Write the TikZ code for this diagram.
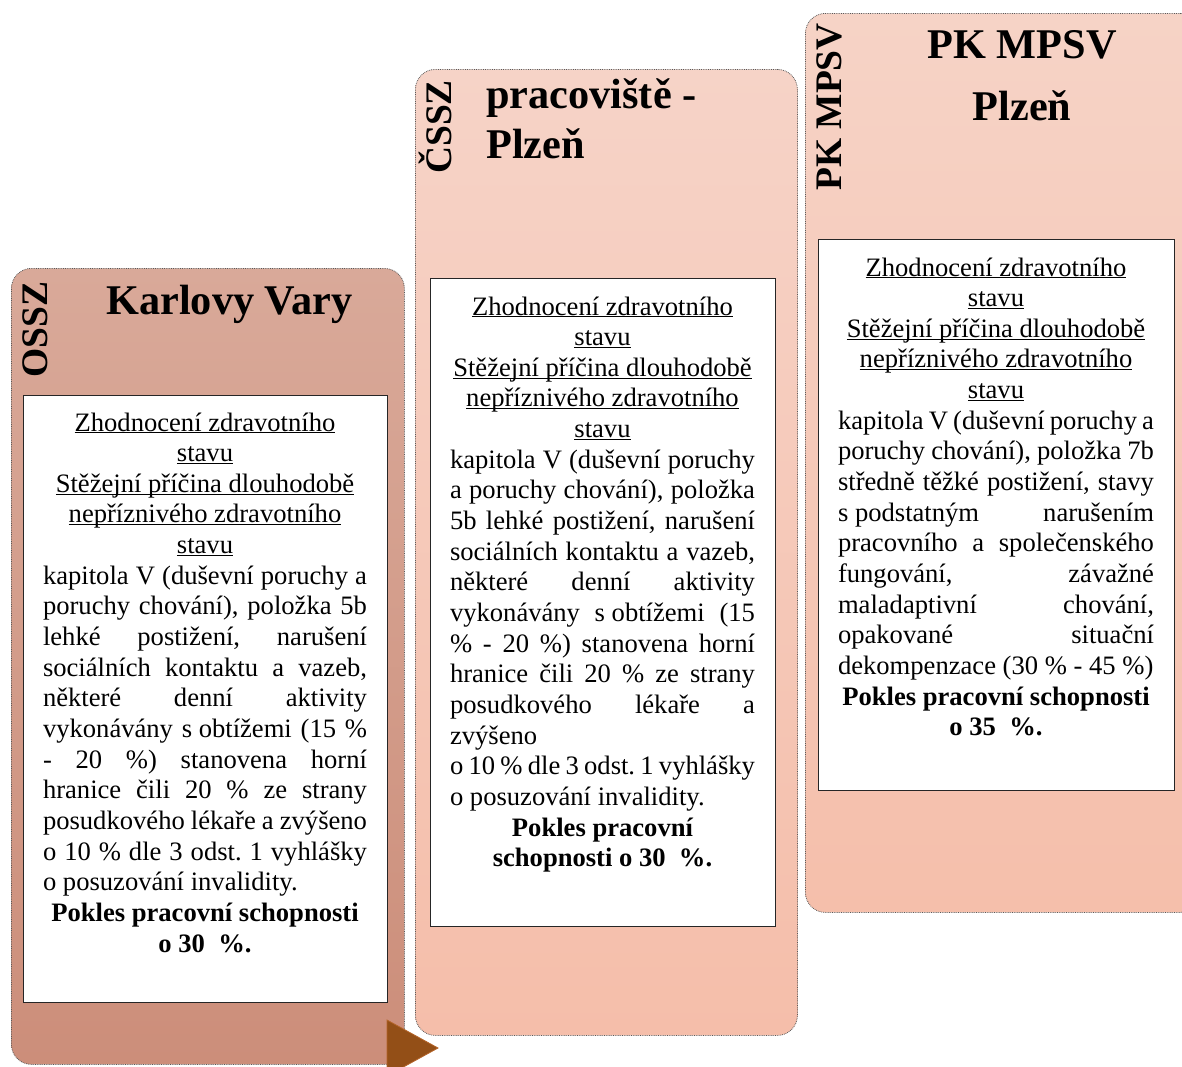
\documentclass[tikz,border=0pt]{standalone}
\usepackage{fontspec}
\setmainfont{Liberation Serif}
\frenchspacing
\newcommand\ulx[1]{\underline{\smash{#1}}}
\newcommand\fsp{\hskip0.25em\relax}
\definecolor{pAtop}{HTML}{D9A999}
\definecolor{pAbot}{HTML}{CC8E7A}
\definecolor{pBtop}{HTML}{F6D3C7}
\definecolor{pBbot}{HTML}{F5BEAA}
\definecolor{pCtop}{HTML}{F6D3C6}
\definecolor{pCbot}{HTML}{F5BFAB}
\definecolor{arrowbrown}{HTML}{934F17}
\definecolor{arrowedge}{HTML}{B5652A}
\tikzset{
  panel/.style={rectangle, draw=black!65, densely dotted, line width=0.8pt,
    rounded corners=20pt, anchor=north west, inner sep=0pt},
  textbox/.style={rectangle, draw=black!85, line width=1.1pt, fill=white,
    anchor=north west, inner sep=0pt},
  body/.style={anchor=base, inner sep=0pt, align=justify,
    font=\fontsize{26.6pt}{30.65pt}\selectfont},
  headline/.style={inner sep=0pt, font=\fontsize{42.3pt}{48pt}\selectfont\bfseries},
  sidelabel/.style={inner sep=0pt, rotate=90, anchor=base west,
    font=\fontsize{37.5pt}{40pt}\selectfont\bfseries},
}
\begin{document}
\begin{tikzpicture}[x=1pt,y=-1pt]
\useasboundingbox (0,0) rectangle (1182,1066);
\begin{scope}
\clip (0,0) rectangle (1182,1066);
% panels
\node[panel, shade, top color=pCtop, bottom color=pCbot,
  minimum width=395pt, minimum height=899pt] (p3) at (805,13) {};
\node[panel, shade, top color=pBtop, bottom color=pBbot,
  minimum width=382pt, minimum height=966pt] (p2) at (415,69) {};
\node[panel, shade, top color=pAtop, bottom color=pAbot,
  minimum width=393pt, minimum height=796pt] (p1) at (11,268) {};
% white boxes
\node[textbox, minimum width=364pt, minimum height=607pt] (b1) at (23,395) {};
\node[textbox, minimum width=345pt, minimum height=648pt] (b2) at (430,278) {};
\node[textbox, minimum width=356pt, minimum height=551pt] (b3) at (818,239) {};
% headers
\node[sidelabel] (s1) at (47,378) {OSSZ};
\node[headline, anchor=base] (h1) at (229.5,314) {Karlovy Vary};
\node[sidelabel] (s2) at (451,174) {ČSSZ};
\node[headline, anchor=base west] (h2a) at (486,108) {pracoviště -};
\node[headline, anchor=base west] (h2b) at (486,158) {Plzeň};
\node[sidelabel] (s3) at (841,191) {PK MPSV};
\node[headline, anchor=base] (h3a) at (1022,58) {PK MPSV};
\node[headline, anchor=base] (h3b) at (1022,120) {Plzeň};
% body texts
\node[body, text width=324pt] (t1) at (205,431) {%
\tolerance=10000 \hyphenpenalty=10000 \exhyphenpenalty=10000
{\centering\ulx{Zhodnocení zdravotního}\par\ulx{stavu}\par\ulx{Stěžejní příčina dlouhodobě}\par\ulx{nepříznivého zdravotního}\par\ulx{stavu}\par}
kapitola V (duševní poruchy a\linebreak
poruchy chování), položka 5b\linebreak
lehké postižení, narušení\linebreak
sociálních kontaktu a vazeb,\linebreak
některé denní aktivity\linebreak
vykonávány s\fsp obtížemi (15 \%\linebreak
- 20 \%) stanovena horní\linebreak
hranice čili 20 \% ze strany\linebreak
posudkového lékaře a zvýšeno\linebreak
o 10 \% dle 3 odst. 1 vyhlášky\linebreak
o posuzování invalidity.\par
{\centering\bfseries Pokles pracovní schopnosti\par o 30\ \ \%.\par}};
\node[body, text width=305pt] (t2) at (602.5,315) {%
\tolerance=10000 \hyphenpenalty=10000 \exhyphenpenalty=10000
{\centering\ulx{Zhodnocení zdravotního}\par\ulx{stavu}\par\ulx{Stěžejní příčina dlouhodobě}\par\ulx{nepříznivého zdravotního}\par\ulx{stavu}\par}
kapitola V (duševní poruchy\linebreak
a poruchy chování), položka\linebreak
5b lehké postižení, narušení\linebreak
sociálních kontaktu a vazeb,\linebreak
některé denní aktivity\linebreak
vykonávány s\fsp obtížemi (15\linebreak
\% - 20 \%) stanovena horní\linebreak
hranice čili 20 \% ze strany\linebreak
posudkového lékaře a\linebreak
zvýšeno\newline
o 10 \% dle 3 odst. 1 vyhlášky\linebreak
o posuzování invalidity.\par
{\centering\bfseries Pokles pracovní\par schopnosti o 30\ \ \%.\par}};
\node[body, text width=316pt] (t3) at (996,276) {%
\tolerance=10000 \hyphenpenalty=10000 \exhyphenpenalty=10000
{\centering\ulx{Zhodnocení zdravotního}\par\ulx{stavu}\par\ulx{Stěžejní příčina dlouhodobě}\par\ulx{nepříznivého zdravotního}\par\ulx{stavu}\par}
kapitola V (duševní poruchy a\linebreak
poruchy chování), položka 7b\linebreak
středně těžké postižení, stavy\linebreak
s\fsp podstatným narušením\linebreak
pracovního a společenského\linebreak
fungování, závažné\linebreak
maladaptivní chování,\linebreak
opakované situační\linebreak
dekompenzace (30 \% - 45 \%)\par
{\centering\bfseries Pokles pracovní schopnosti\par o 35\ \ \%.\par}};
% arrow head
\coordinate (a1) at (387,1020);
\coordinate (a2) at (438,1048);
\coordinate (a3) at (387,1076);
\filldraw[fill=arrowbrown, draw=arrowedge, line width=0.8pt] (a1) -- (a2) -- (a3) -- cycle;
\end{scope}
\end{tikzpicture}
\end{document}
